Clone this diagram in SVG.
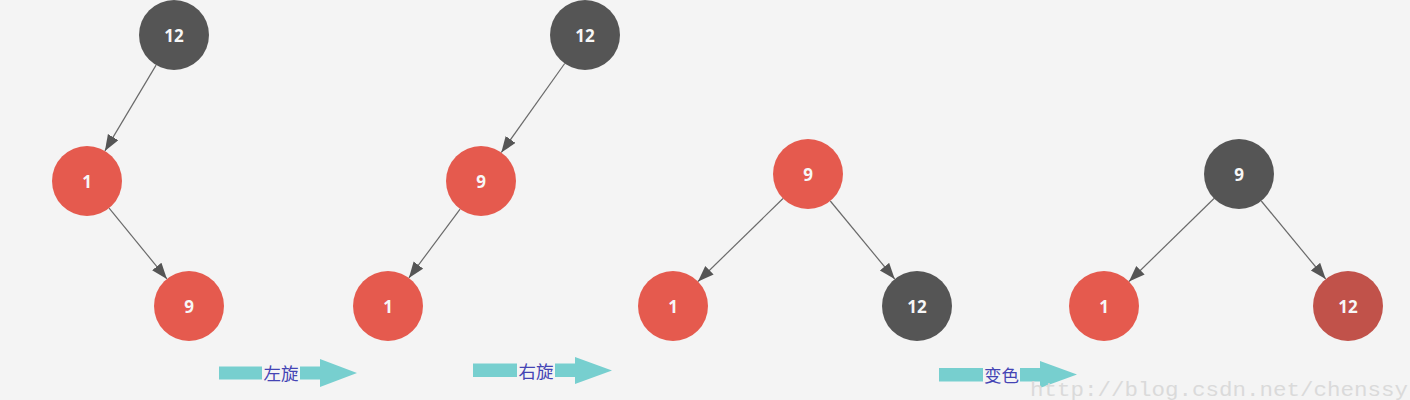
<svg xmlns="http://www.w3.org/2000/svg" width="1410" height="400" viewBox="0 0 1410 400">
<style>
.bg{fill:#f4f4f4}
.blk{fill:#555555}
.red{fill:#e55a4e}
.dred{fill:#c1524a}
.lbl{font-family:"Open Sans","DejaVu Sans",sans-serif;font-weight:bold;font-size:17px;fill:#f7f7f7;text-anchor:middle;dominant-baseline:central}
.edge{stroke:#6a6a6a;stroke-width:1.2;fill:none;marker-end:url(#ah)}
.big{fill:#77cfcf}
.cap{font-family:"Noto Sans CJK SC",sans-serif;font-size:17.5px;fill:#4444b4;text-anchor:middle;dominant-baseline:central}
.wm{font-family:"Liberation Mono",monospace;font-size:21px;fill:#dadada}
</style>
<defs>
<marker id="ah" markerUnits="userSpaceOnUse" markerWidth="17" markerHeight="13" refX="16" refY="6" orient="auto">
<path d="M0,0 L16,6 L0,12 z" fill="#555555"/>
</marker>
</defs>
<rect class="bg" x="0" y="0" width="1410" height="400"/>
<g id="connectors">
<line class="edge" x1="156.1" y1="65.1" x2="104.9" y2="150.9"/>
<line class="edge" x1="109.1" y1="208.1" x2="166.9" y2="278.9"/>
<line class="edge" x1="564.7" y1="63.5" x2="501.3" y2="152.5"/>
<line class="edge" x1="460.1" y1="209.1" x2="408.9" y2="277.9"/>
<line class="edge" x1="783.0" y1="198.5" x2="698.0" y2="281.5"/>
<line class="edge" x1="830.3" y1="201.0" x2="894.7" y2="279.0"/>
<line class="edge" x1="1214.0" y1="198.5" x2="1129.0" y2="281.5"/>
<line class="edge" x1="1261.3" y1="201.0" x2="1325.7" y2="279.0"/>
</g>
<g id="t1-n12"><circle class="blk" cx="174" cy="35" r="35"/><text class="lbl" x="174" y="35">12</text></g>
<g id="t1-n1"><circle class="red" cx="87" cy="181" r="35"/><text class="lbl" x="87" y="181">1</text></g>
<g id="t1-n9"><circle class="red" cx="189" cy="306" r="35"/><text class="lbl" x="189" y="306">9</text></g>
<g id="t2-n12"><circle class="blk" cx="585" cy="35" r="35"/><text class="lbl" x="585" y="35">12</text></g>
<g id="t2-n9"><circle class="red" cx="481" cy="181" r="35"/><text class="lbl" x="481" y="181">9</text></g>
<g id="t2-n1"><circle class="red" cx="388" cy="306" r="35"/><text class="lbl" x="388" y="306">1</text></g>
<g id="t3-n9"><circle class="red" cx="808" cy="174" r="35"/><text class="lbl" x="808" y="174">9</text></g>
<g id="t3-n1"><circle class="red" cx="673" cy="306" r="35"/><text class="lbl" x="673" y="306">1</text></g>
<g id="t3-n12"><circle class="blk" cx="917" cy="306" r="35"/><text class="lbl" x="917" y="306">12</text></g>
<g id="t4-n9"><circle class="blk" cx="1239" cy="174" r="35"/><text class="lbl" x="1239" y="174">9</text></g>
<g id="t4-n1"><circle class="red" cx="1104" cy="306" r="35"/><text class="lbl" x="1104" y="306">1</text></g>
<g id="t4-n12"><circle class="dred" cx="1348" cy="306" r="35"/><text class="lbl" x="1348" y="306">12</text></g>
<g id="step1">
<path class="big" d="M219,366.5 L320,366.5 L320,359 L357,373 L320,387 L320,379.5 L219,379.5 z"/>
<rect class="bg" x="262" y="364" width="38" height="18"/>
<text class="cap" x="281" y="372.5">左旋</text>
</g>
<g id="step2">
<path class="big" d="M473,363.5 L575,363.5 L575,357 L612,370.5 L575,384 L575,377 L473,377 z"/>
<rect class="bg" x="517" y="361" width="38" height="18"/>
<text class="cap" x="536" y="370">右旋</text>
</g>
<g id="step3">
<path class="big" d="M939,368 L1040,368 L1040,361 L1077,374.5 L1040,388 L1040,381.5 L939,381.5 z"/>
<rect class="bg" x="983" y="366" width="37" height="18"/>
<text class="cap" x="1001.5" y="374.5">变色</text>
</g>
<text class="wm" x="1030" y="396" textLength="378" lengthAdjust="spacingAndGlyphs">http://blog.csdn.net/chenssy</text>
</svg>
